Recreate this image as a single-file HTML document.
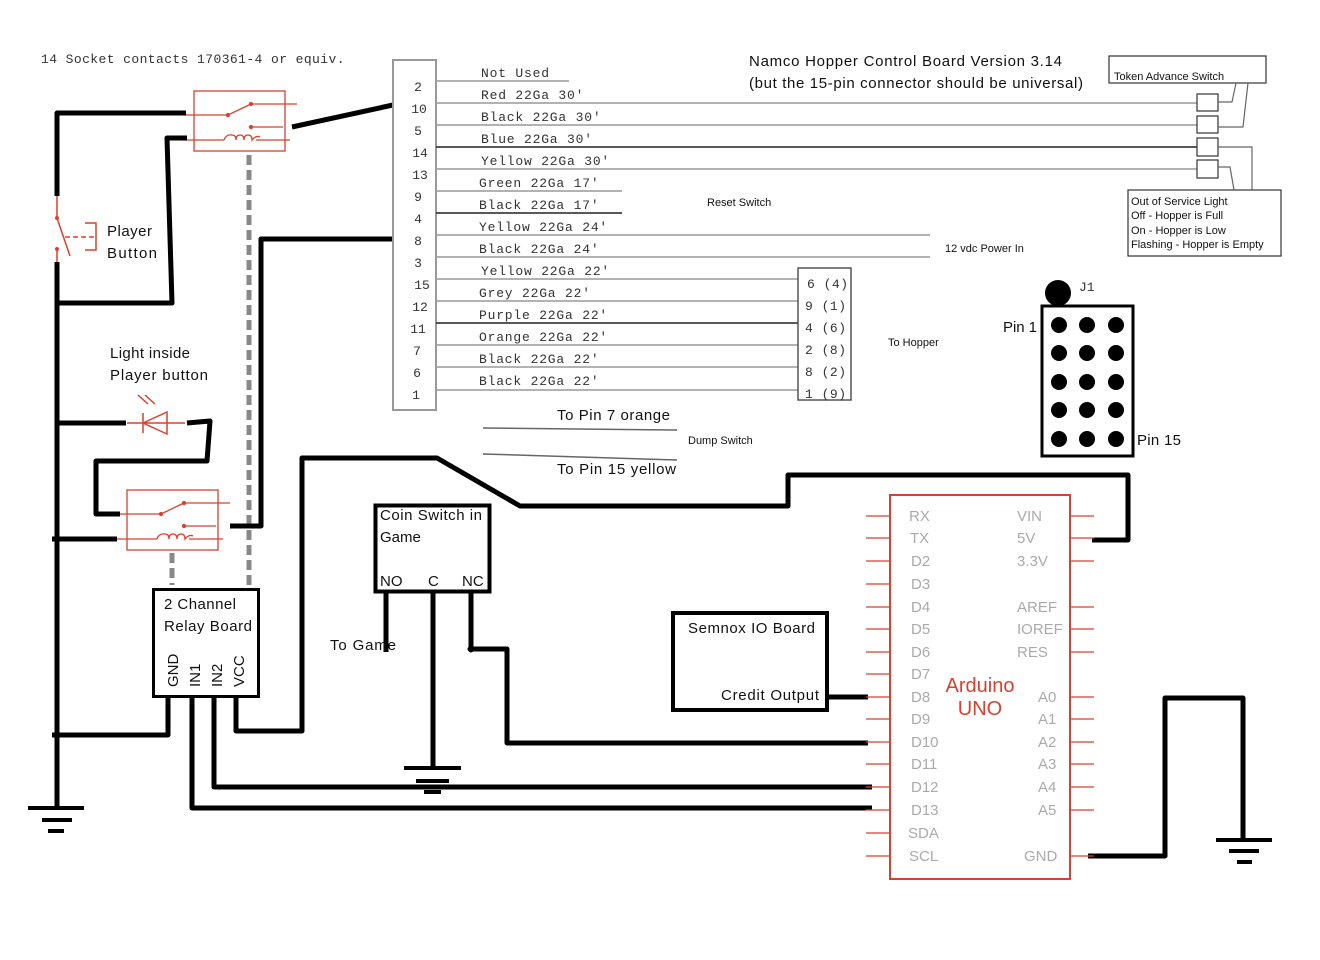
<!DOCTYPE html>
<html><head><meta charset="utf-8"><style>
html,body{margin:0;padding:0;background:#fff}
svg{display:block}
.m{font-family:"Liberation Mono",monospace;font-size:13px;fill:#333}
.s{font-family:"Liberation Sans",sans-serif;fill:#111}
</style></head><body>
<svg width="1320" height="960" viewBox="0 0 1320 960" xmlns="http://www.w3.org/2000/svg">
<rect width="1320" height="960" fill="#fff"/>
<defs>
<g id="relay" stroke="#d9402f" fill="none" stroke-width="1.3">
<rect x="194" y="91" width="91" height="60"/>
<path d="M183 115H228L251 104M251 104H297M251 127H283M183 140H224M256 140H290"/>
<path d="M224 140 q2-6 8-5 q4 0 4 5 q0-5 4-5 q4 0 4 5 q0-5 4-5 q4 0 4 5 q4-5 8-3" />
<circle cx="228" cy="115" r="1.5" fill="#d9402f"/><circle cx="251" cy="104" r="1.5" fill="#d9402f"/><circle cx="251" cy="127" r="1.5" fill="#d9402f"/>
</g>
</defs>
<text x="41" y="63" class="m" font-size="12" letter-spacing="0.5" textLength="304">14 Socket contacts 170361-4 or equiv.</text>
<use href="#relay"/>
<use href="#relay" transform="translate(-67,399)"/>
<g stroke="#888" stroke-width="5" stroke-dasharray="10,5"><path d="M249 155V585"/><path d="M172 553V585"/></g>
<g stroke="#000" stroke-width="5" fill="none" stroke-linejoin="round">
<path d="M186 113H57V196"/>
<path d="M57 262V808"/>
<path d="M57 303H172L167 138H187"/>
<path d="M292 127L393 105"/>
<path d="M393 239H261V526H230"/>
<path d="M57 423H126"/>
<path d="M187 423L210 421L207 461H96V514H120"/>
<path d="M52 539H117"/>
<path d="M168 697V735H52"/>
<path d="M192 697V808H872"/>
<path d="M214 697V787H872"/>
<path d="M236 697V731H302V458H437L520 506H788V475H1128V540H1092"/>
<path d="M28 808H84M42 820H72M48 831H64" stroke-width="4"/>
<path d="M386 592V652M433 592V768M471 592V650L470 649H507V743H868"/>
<path d="M404 768H461M416 781H449M424 792H441" stroke-width="4"/>
<path d="M828 697H868"/>
<path d="M1088 856H1165V698H1243V840"/>
<path d="M1216 840H1272M1229 851H1259M1237 862H1252" stroke-width="4"/>
</g>
<g stroke="#d9402f" stroke-width="1.5" fill="none">
<path d="M57 196V218L70 256M57 248V262"/>
<path d="M65 237H95" stroke-dasharray="5,3"/>
<path d="M85 223H96V250H85"/>
<path d="M127 423H185M143 413V433M167 412V434L143 423Z"/>
<path d="M148 404L138 395M155 404L145 395"/>
</g>
<circle cx="57" cy="218" r="2" fill="#d9402f"/><circle cx="57" cy="249" r="2" fill="#d9402f"/>
<text class="s" font-size="15" x="107" y="236" textLength="45">Player</text>
<text class="s" font-size="15" x="107" y="258" textLength="50">Button</text>
<text class="s" font-size="15" x="110" y="358" textLength="80">Light inside</text>
<text class="s" font-size="15" x="110" y="380" textLength="98">Player button</text>
<rect x="153.5" y="589.5" width="105" height="107" fill="none" stroke="#000" stroke-width="3"/>
<text class="s" font-size="15" x="164" y="609" textLength="72">2 Channel</text>
<text class="s" font-size="15" x="164" y="631" textLength="88">Relay Board</text>
<g class="s" font-size="15"><text transform="translate(178,687) rotate(-90)">GND</text><text transform="translate(200,687) rotate(-90)">IN1</text><text transform="translate(222,687) rotate(-90)">IN2</text><text transform="translate(244,687) rotate(-90)">VCC</text></g>
<rect x="393" y="60" width="43" height="350" fill="none" stroke="#999" stroke-width="2"/>
<g class="m" font-size="13" text-anchor="middle">
<text x="418" y="91">2</text><text x="419" y="113">10</text><text x="418" y="135">5</text><text x="420" y="157">14</text><text x="420" y="179">13</text><text x="418" y="201">9</text><text x="418" y="223">4</text><text x="418" y="245">8</text><text x="418" y="267">3</text><text x="422" y="289">15</text><text x="420" y="311">12</text><text x="418" y="333">11</text><text x="417" y="355">7</text><text x="417" y="377">6</text><text x="416" y="399">1</text>
</g>
<g stroke="#999" stroke-width="1.5">
<path d="M436 81H569M436 103H1197M436 125H1197M436 169H1197M436 191H622M436 235H930M436 257H930M436 279H798M436 301H798M436 345H798M436 367H798M436 390H798"/>
</g>
<g stroke="#222" stroke-width="1.5"><path d="M436 147H1197M436 213H622M436 323H798"/></g>
<g class="m" letter-spacing="0.8">
<text x="481" y="77">Not Used</text>
<text x="481" y="99">Red 22Ga 30'</text>
<text x="481" y="121">Black 22Ga 30'</text>
<text x="481" y="143">Blue 22Ga 30'</text>
<text x="481" y="165">Yellow 22Ga 30'</text>
<text x="479" y="187">Green 22Ga 17'</text>
<text x="479" y="209">Black 22Ga 17'</text>
<text x="479" y="231">Yellow 22Ga 24'</text>
<text x="479" y="253">Black 22Ga 24'</text>
<text x="481" y="275">Yellow 22Ga 22'</text>
<text x="479" y="297">Grey 22Ga 22'</text>
<text x="479" y="319">Purple 22Ga 22'</text>
<text x="479" y="341">Orange 22Ga 22'</text>
<text x="479" y="363">Black 22Ga 22'</text>
<text x="479" y="385">Black 22Ga 22'</text>
</g>
<rect x="798" y="268" width="53" height="132" fill="none" stroke="#555" stroke-width="1.5"/>
<g class="m" font-size="12" letter-spacing="0.5">
<text x="807" y="288">6 (4)</text><text x="805" y="310">9 (1)</text><text x="805" y="332">4 (6)</text><text x="805" y="354">2 (8)</text><text x="805" y="376">8 (2)</text><text x="805" y="398">1 (9)</text>
</g>
<text class="s" font-size="15" x="749" y="66" textLength="313">Namco Hopper Control Board Version 3.14</text>
<text class="s" font-size="15" x="749" y="88" textLength="334">(but the 15-pin connector should be universal)</text>
<text class="s" font-size="11" x="707" y="206">Reset Switch</text>
<text class="s" font-size="11" x="945" y="252">12 vdc Power In</text>
<text class="s" font-size="11" x="888" y="346">To Hopper</text>
<text class="s" font-size="11" x="688" y="444">Dump Switch</text>
<g fill="none" stroke="#333" stroke-width="1.2">
<rect x="1197" y="94" width="21" height="17"/><rect x="1197" y="116" width="21" height="17"/><rect x="1197" y="138" width="21" height="18"/><rect x="1197" y="160" width="21" height="18"/>
<rect x="1109" y="56" width="157" height="27"/>
<rect x="1128" y="190" width="153" height="66"/>
<path d="M1218 102H1232L1236 83M1218 127H1243L1248 83M1218 147H1252V190M1218 167H1230L1234 190" stroke="#666"/>
</g>
<text class="s" font-size="11" x="1114" y="80">Token Advance Switch</text>
<g class="s" font-size="11"><text x="1131" y="205">Out of Service Light</text><text x="1131" y="219">Off - Hopper is Full</text><text x="1131" y="234">On - Hopper is Low</text><text x="1131" y="248">Flashing - Hopper is Empty</text></g>
<circle cx="1058" cy="293" r="13" fill="#000"/>
<text class="m" font-size="13" x="1079" y="291">J1</text>
<rect x="1042" y="306" width="91" height="150" fill="none" stroke="#000" stroke-width="3"/>
<g fill="#000">
<circle cx="1059" cy="325" r="8"/><circle cx="1087" cy="325" r="8"/><circle cx="1116" cy="325" r="8"/>
<circle cx="1059" cy="353" r="8"/><circle cx="1087" cy="353" r="8"/><circle cx="1116" cy="353" r="8"/>
<circle cx="1059" cy="382" r="8"/><circle cx="1087" cy="382" r="8"/><circle cx="1116" cy="382" r="8"/>
<circle cx="1059" cy="410" r="8"/><circle cx="1087" cy="410" r="8"/><circle cx="1116" cy="410" r="8"/>
<circle cx="1059" cy="439" r="8"/><circle cx="1087" cy="439" r="8"/><circle cx="1116" cy="439" r="8"/>
</g>
<text class="s" font-size="15" x="1003" y="332" textLength="34">Pin 1</text>
<text class="s" font-size="15" x="1137" y="445" textLength="44">Pin 15</text>
<g stroke="#666" stroke-width="1.5"><path d="M483 428L677 430M483 454L677 460"/></g>
<text class="s" font-size="15" x="557" y="420" textLength="113">To Pin 7 orange</text>
<text class="s" font-size="15" x="557" y="474" textLength="119">To Pin 15 yellow</text>
<rect x="375.5" y="505.5" width="114" height="86" fill="none" stroke="#000" stroke-width="4"/>
<text class="s" font-size="15" x="380" y="520" textLength="102">Coin Switch in</text>
<text class="s" font-size="15" x="380" y="542">Game</text>
<text class="s" font-size="15" x="380" y="586">NO</text><text class="s" font-size="15" x="428" y="586">C</text><text class="s" font-size="15" x="462" y="586">NC</text>
<text class="s" font-size="15" x="330" y="650" textLength="66">To Game</text>
<rect x="673" y="613" width="154" height="97" fill="none" stroke="#000" stroke-width="4"/>
<text class="s" font-size="15" x="688" y="633" textLength="127">Semnox IO Board</text>
<text class="s" font-size="15" x="721" y="700" textLength="98">Credit Output</text>
<rect x="890" y="495" width="180" height="384" fill="none" stroke="#d9402f" stroke-width="2"/>
<g stroke="#d9402f" stroke-width="1.3">
<path d="M866 516H890M866 538H890M866 561H890M866 584H890M866 607H890M866 629H890M866 652H890M866 674H890M866 697H890M866 719H890M866 742H890M866 764H890M866 787H890M866 810H890M866 833H890M866 856H890"/>
<path d="M1070 516H1094M1070 538H1094M1070 561H1094M1070 607H1094M1070 629H1094M1070 652H1094M1070 697H1094M1070 719H1094M1070 742H1094M1070 764H1094M1070 787H1094M1070 810H1094M1070 856H1094"/>
</g>
<g font-family="Liberation Sans,sans-serif" font-size="15" fill="#aaa">
<text x="909" y="521">RX</text><text x="910" y="543">TX</text><text x="911" y="566">D2</text><text x="911" y="589">D3</text><text x="911" y="612">D4</text><text x="911" y="634">D5</text><text x="911" y="657">D6</text><text x="911" y="679">D7</text><text x="911" y="702">D8</text><text x="911" y="724">D9</text><text x="911" y="747">D10</text><text x="911" y="769">D11</text><text x="911" y="792">D12</text><text x="911" y="815">D13</text><text x="908" y="838">SDA</text><text x="909" y="861">SCL</text>
<text x="1017" y="521">VIN</text><text x="1017" y="543">5V</text><text x="1017" y="566">3.3V</text><text x="1017" y="612">AREF</text><text x="1017" y="634">IOREF</text><text x="1017" y="657">RES</text><text x="1038" y="702">A0</text><text x="1038" y="724">A1</text><text x="1038" y="747">A2</text><text x="1038" y="769">A3</text><text x="1038" y="792">A4</text><text x="1038" y="815">A5</text><text x="1024" y="861">GND</text>
</g>
<text font-family="Liberation Sans,sans-serif" font-size="20" fill="#d9402f" x="980" y="692" text-anchor="middle">Arduino</text>
<text font-family="Liberation Sans,sans-serif" font-size="20" fill="#d9402f" x="980" y="715" text-anchor="middle">UNO</text>
</svg>
</body></html>
